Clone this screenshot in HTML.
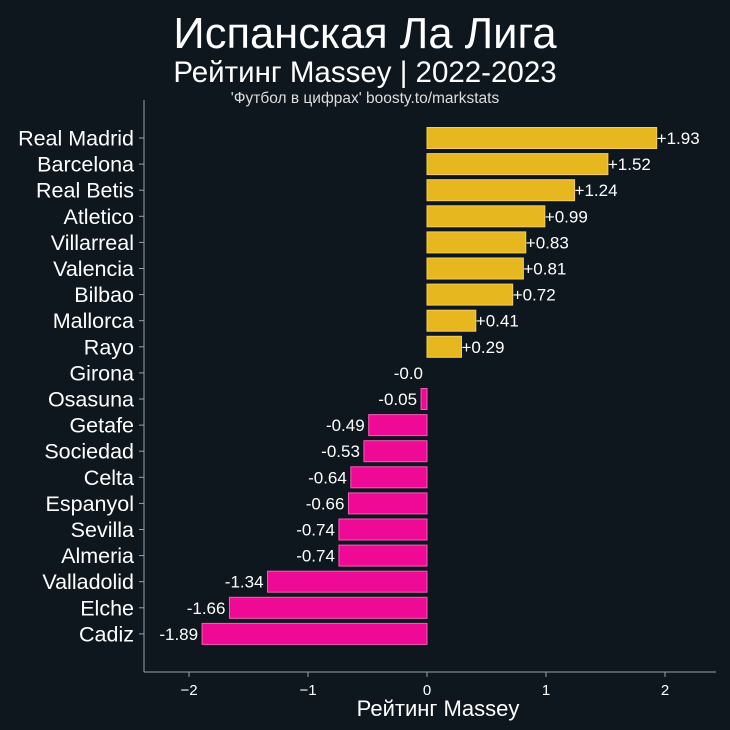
<!DOCTYPE html>
<html><head><meta charset="utf-8"><style>
html,body{margin:0;padding:0;background:#0f171e;}
svg{display:block;font-family:"Liberation Sans","DejaVu Sans",sans-serif;}
</style></head><body>
<svg id="chart" width="730" height="730" xmlns="http://www.w3.org/2000/svg">
<rect width="730" height="730" fill="#0f171e"/>
<text x="365" y="48" text-anchor="middle" fill="#ffffff" font-size="43.5">Испанская Ла Лига</text>
<text x="365" y="82" text-anchor="middle" fill="#ffffff" font-size="29.5">Рейтинг Massey | 2022-2023</text>
<text x="365" y="103" text-anchor="middle" fill="#dddddd" font-size="15.5">'Футбол в цифрах' boosty.to/markstats</text>
<g id="plot"></g>
<text x="438" y="716" text-anchor="middle" fill="#ffffff" font-size="22">Рейтинг Massey</text>
</svg>
<script>
const teams=["Real Madrid","Barcelona","Real Betis","Atletico","Villarreal","Valencia","Bilbao","Mallorca","Rayo","Girona","Osasuna","Getafe","Sociedad","Celta","Espanyol","Sevilla","Almeria","Valladolid","Elche","Cadiz"];
const ratings=[1.93,1.52,1.24,0.99,0.83,0.81,0.72,0.41,0.29,-0.0,-0.05,-0.49,-0.53,-0.64,-0.66,-0.74,-0.74,-1.34,-1.66,-1.89];
const labels=["+1.93","+1.52","+1.24","+0.99","+0.83","+0.81","+0.72","+0.41","+0.29","-0.0","-0.05","-0.49","-0.53","-0.64","-0.66","-0.74","-0.74","-1.34","-1.66","-1.89"];
const xTicks=[-2,-1,0,1,2];
const xTickLabels=["−2","−1","0","1","2"];

const NS="http://www.w3.org/2000/svg";
const g=document.getElementById("plot");
const x=v=>427+v*119;
const y=i=>138+i*26.1;
function mk(t,a){const e=document.createElementNS(NS,t);for(const k in a)e.setAttribute(k,a[k]);g.appendChild(e);return e;}
const ya=mk("line",{x1:144,y1:100,x2:144,y2:672,stroke:"#9aa0a6","stroke-width":1});


const xa=mk("line",{x1:144,y1:672,x2:716,y2:672,stroke:"#9aa0a6","stroke-width":1});


xTicks.forEach((t,k)=>{
  const tk=mk("line",{x1:x(t),y1:672,x2:x(t),y2:677,stroke:"#9aa0a6"});
  
  
  const tl=mk("text",{x:x(t),y:695,"text-anchor":"middle",fill:"#ffffff","font-size":15});
  tl.textContent=xTickLabels[k];
  
  
});
teams.forEach((n,i)=>{
  const v=ratings[i],yc=y(i);
  const tk=mk("line",{x1:139,y1:yc,x2:144,y2:yc,stroke:"#9aa0a6"});
  
  
  const tl=mk("text",{x:134,y:yc+7.5,"text-anchor":"end",fill:"#ffffff","font-size":21.5});
  tl.textContent=n;
  
  
  const pos=v>0;
  if(v!==0){
    const b=mk("rect",{x:Math.min(x(0),x(v)),y:yc-10.5,width:Math.abs(x(v)-x(0)),height:21,fill:pos?"#e6b71e":"#ef0a96",stroke:pos?"#f3cf5a":"#f65ab8","stroke-width":1});
    
    
  }
  const vl=mk("text",{x:pos?x(v):x(v)-4,y:yc+6,"text-anchor":pos?"start":"end",fill:"#ffffff","font-size":17});
  vl.textContent=labels[i];
  
  
});
</script>
</body></html>
